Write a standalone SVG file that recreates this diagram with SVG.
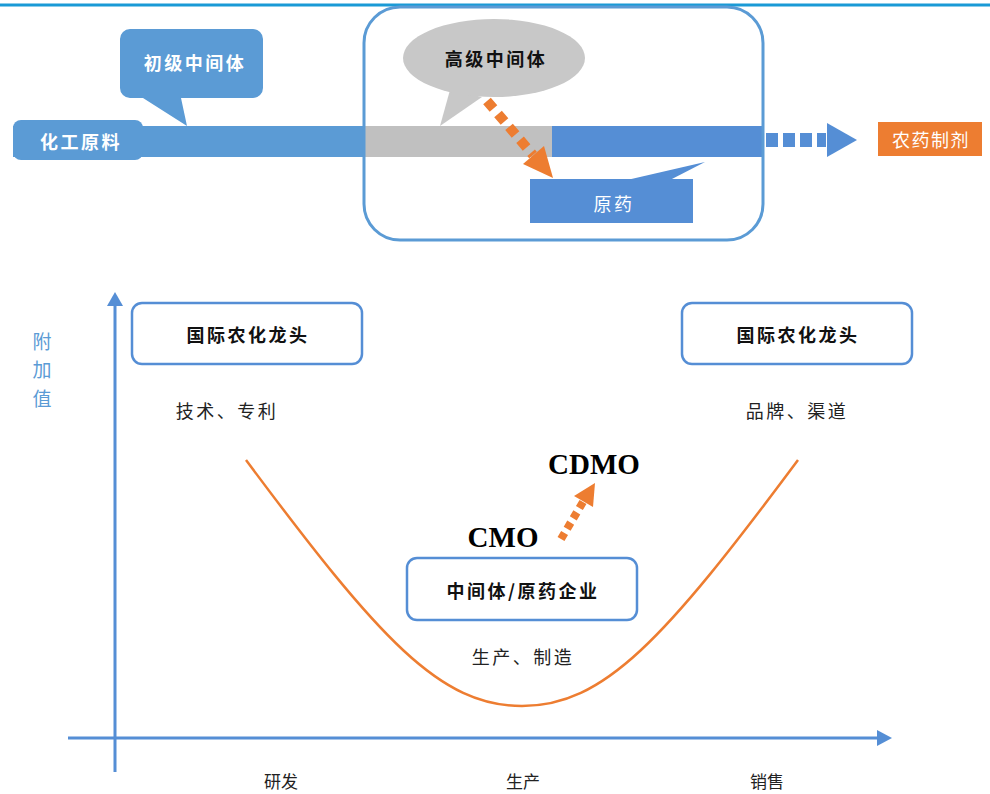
<svg xmlns="http://www.w3.org/2000/svg" width="990" height="794" viewBox="0 0 990 794">
  <style>
    .cjk { font-family: "Noto Sans CJK SC", "Noto Sans", sans-serif; font-size: 18px; letter-spacing: 2.5px; text-anchor: middle; dominant-baseline: central; }
    .wt { fill: #ffffff; font-weight: 700; }
    .bk { fill: #111111; font-weight: 700; }
    .nm { fill: #222222; font-weight: 400; }
    .ax { stroke: #558ed5; stroke-width: 3; fill: none; }
    .box { fill: #ffffff; stroke: #558ed5; stroke-width: 2.5; }
    .lat { font-family: "Liberation Serif", "Times New Roman", serif; font-weight: 700; font-size: 29px; fill: #000; text-anchor: middle; dominant-baseline: central; }
  </style>

  <rect width="990" height="794" fill="#ffffff"/>
  <!-- header rule -->
  <line x1="0" y1="5" x2="990" y2="5" stroke="#1a9ad6" stroke-width="3"/>

  <!-- value chain strip -->
  <g id="chain">
    <rect x="13" y="126" width="352" height="31" fill="#5b9bd5"/>
    <rect x="365" y="126" width="187" height="31" fill="#c0c0c0"/>
    <rect x="552" y="126" width="211" height="31" fill="#558ed5"/>
  </g>

  <g id="node-raw">
    <rect x="13" y="120" width="130" height="40" rx="8" fill="#5b9bd5"/>
    <text class="cjk wt" x="81" y="141">化工原料</text>
  </g>

  <g id="node-primary">
    <path d="M130,29 H253 A10,10 0 0 1 263,39 V88 A10,10 0 0 1 253,98 H181 L187,126 L143,98 H130 A10,10 0 0 1 120,88 V39 A10,10 0 0 1 130,29 Z" fill="#5b9bd5"/>
    <text class="cjk wt" x="195" y="62">初级中间体</text>
  </g>

  <g id="frame">
    <rect x="364" y="7" width="399" height="233" rx="36" fill="none" stroke="#5b9bd5" stroke-width="3"/>
  </g>

  <g id="node-advanced">
    <path d="M450,90 L440,126 L482,97 Z" fill="#c8c8c8"/>
    <ellipse cx="494" cy="58" rx="91" ry="39" fill="#c8c8c8"/>
    <text class="cjk bk" x="496" y="58">高级中间体</text>
  </g>

  <g id="node-tech">
    <path d="M627,180 L705,162 L670,180 Z" fill="#558ed5"/>
    <rect x="530" y="179" width="163" height="44" fill="#558ed5"/>
    <text class="cjk wt" x="614" y="203" style="font-weight:400">原药</text>
  </g>

  <g id="node-formulation">
    <rect x="878" y="122" width="104" height="34" fill="#ed7d31"/>
    <text class="cjk wt" x="931" y="139" style="font-weight:400;letter-spacing:1.5px">农药制剂</text>
  </g>

  <!-- smile curve chart -->
  <g id="axes">
    <line class="ax" x1="115" y1="772" x2="115" y2="304"/>
    <path d="M115,292 L107,306 L123,306 Z" fill="#558ed5"/>
    <line class="ax" x1="68" y1="738" x2="880" y2="738"/>
    <path d="M892,738 L877,730 L877,746 Z" fill="#558ed5"/>
  </g>

  <g id="axis-labels">
    <text class="cjk" x="42" y="340" fill="#5b9bd5" style="font-size:19px;letter-spacing:0">附</text>
    <text class="cjk" x="42" y="368" fill="#5b9bd5" style="font-size:19px;letter-spacing:0">加</text>
    <text class="cjk" x="42" y="397" fill="#5b9bd5" style="font-size:19px;letter-spacing:0">值</text>
    <text class="cjk nm" x="281" y="780" style="font-size:17px;letter-spacing:0">研发</text>
    <text class="cjk nm" x="523" y="780" style="font-size:17px;letter-spacing:0">生产</text>
    <text class="cjk nm" x="767" y="780" style="font-size:17px;letter-spacing:0">销售</text>
  </g>

  <g id="curve">
    <path d="M246,460 C380,640 440,706 522,706 C604,706 664,640 798,460" fill="none" stroke="#ed7d31" stroke-width="2.5"/>
  </g>

  <g id="node-leader-left">
    <rect class="box" x="132" y="303" width="230" height="61" rx="10"/>
    <text class="cjk bk" x="248" y="334">国际农化龙头</text>
    <text class="cjk nm" x="227" y="410">技术、专利</text>
  </g>

  <g id="node-leader-right">
    <rect class="box" x="682" y="303" width="230" height="61" rx="10"/>
    <text class="cjk bk" x="798" y="334">国际农化龙头</text>
    <text class="cjk nm" x="797" y="410">品牌、渠道</text>
  </g>

  <g id="node-producer">
    <rect class="box" x="407" y="558" width="230" height="62" rx="10"/>
    <text class="cjk bk" x="523" y="590">中间体/原药企业</text>
    <text class="cjk nm" x="523" y="656">生产、制造</text>
  </g>

  <g id="node-cmo">
    <text class="lat" x="503" y="537">CMO</text>
  </g>
  <g id="node-cdmo">
    <text class="lat" x="594" y="464">CDMO</text>
  </g>

  <g id="connectors">
    <!-- advanced intermediate to technical -->
    <line x1="487" y1="101" x2="533" y2="155" stroke="#ed7d31" stroke-width="10" stroke-dasharray="10 7"/>
    <path d="M553,178 L523,164 L544,146 Z" fill="#ed7d31"/>
    <!-- technical to formulation -->
    <line x1="766" y1="140" x2="826" y2="140" stroke="#558ed5" stroke-width="14" stroke-dasharray="12 5"/>
    <path d="M857,140 L827,123 L827,157 Z" fill="#558ed5"/>
    <!-- CMO to CDMO -->
    <line x1="561" y1="539" x2="583" y2="502" stroke="#ed7d31" stroke-width="8" stroke-dasharray="7 5"/>
    <path d="M595,483 L593,507 L574,496 Z" fill="#ed7d31"/>
  </g>
</svg>
